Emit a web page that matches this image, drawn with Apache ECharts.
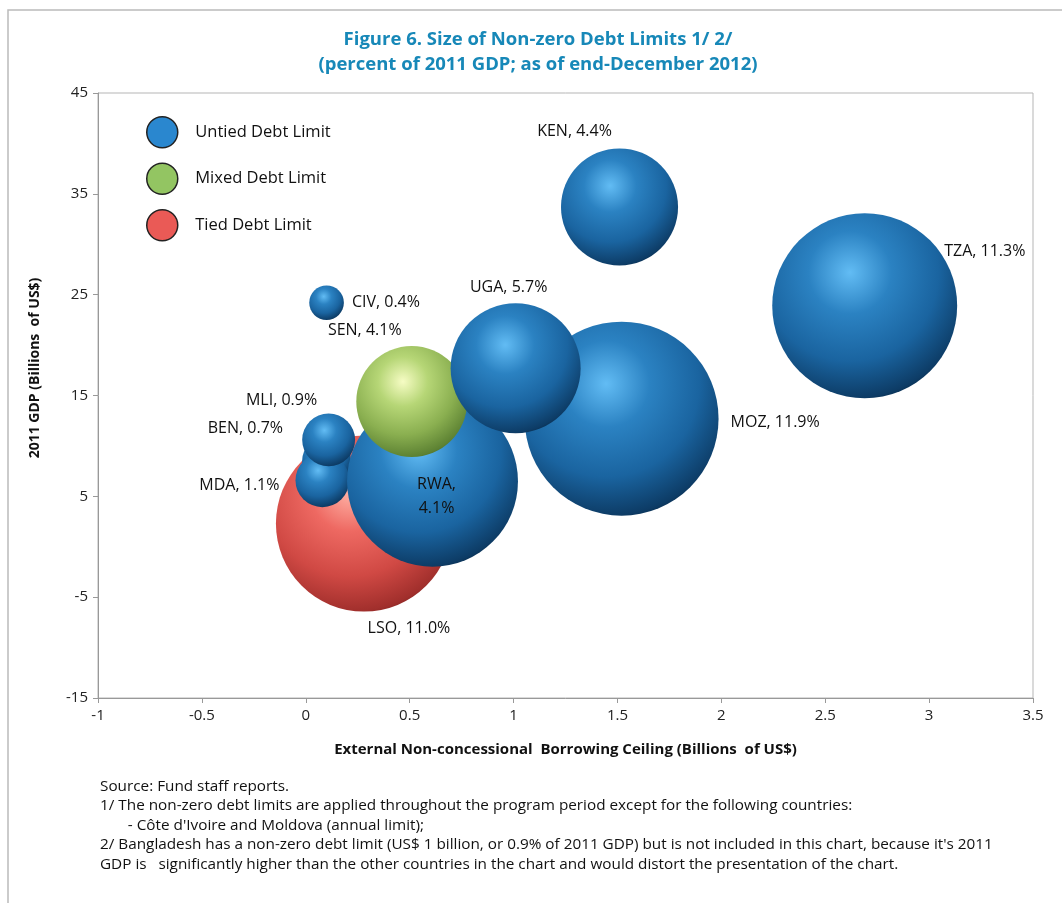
<!DOCTYPE html>
<html>
<head>
<meta charset="utf-8">
<script src="https://cdn.jsdelivr.net/npm/echarts@6/dist/echarts.min.js"></script>
<style>html,body{margin:0;padding:0;background:#fff}#c{width:1062px;height:903px}</style>
</head>
<body>
<div id="c"></div>
<script>
// ---- data ----
const countries   = ['LSO', 'BEN', 'MDA', 'MLI', 'CIV', 'RWA', 'MOZ', 'SEN', 'UGA', 'KEN', 'TZA'];
const limitType   = ['Tied', 'Untied', 'Untied', 'Untied', 'Untied', 'Untied', 'Untied', 'Mixed', 'Untied', 'Untied', 'Untied'];
const ceilingBn   = [0.28, 0.10, 0.08, 0.11, 0.10, 0.61, 1.52, 0.51, 1.01, 1.51, 2.69];   // x
const gdpBn       = [2.3, 8.5, 6.6, 10.6, 24.2, 6.5, 12.7, 14.4, 17.7, 33.7, 23.9];       // y
const bubbleSize  = [310, 24, 29, 28, 12, 292, 376, 123, 169, 137, 342];                   // relative bubble area
const pctGDP      = ['11.0%', '0.7%', '1.1%', '0.9%', '0.4%', '4.1%', '11.9%', '4.1%', '5.7%', '4.4%', '11.3%'];
const seriesNames = ['Untied Debt Limit', 'Mixed Debt Limit', 'Tied Debt Limit'];
const seriesKeys  = ['Untied', 'Mixed', 'Tied'];
const xTicks = {min: -1, max: 3.5, interval: 0.5};
const yTicks = {min: -15, max: 45, interval: 10};

// ---- styles ----
const FONT = "'Open Sans', 'Noto Sans', sans-serif";
const flat = {Untied: '#2a87cf', Mixed: '#93c562', Tied: '#ea5a56'};
function grad(k) {
  const s = {
    Untied: ['#62bcf4', '#2b82c2', '#1a64a0', '#0d3c66', '#010a14'],
    Mixed:  ['#f6fcc4', '#b6d676', '#8aaf50', '#5d8233', '#2c4216'],
    Tied:   ['#ffb2a6', '#ee6962', '#d04944', '#a12f2c', '#4e100f']
  }[k];
  return {type: 'radial', x: 0.42, y: 0.32, r: 0.8, colorStops: [
    {offset: 0, color: s[0]}, {offset: 0.28, color: s[1]},
    {offset: 0.6, color: s[2]}, {offset: 0.85, color: s[3]}, {offset: 1, color: s[4]}]};
}
// label placement (style only)
const labelPlace = {
  LSO: {position: 'bottom', offset: [45, 0]},
  MDA: {position: 'left', offset: [-11, 5]},
  BEN: {position: 'left', offset: [-14, -33]},
  MLI: {position: 'left', offset: [20, -39]},
  CIV: {position: 'right', offset: [3, 0]},
  RWA: {position: 'inside', offset: [4, 15], newline: true},
  SEN: {position: 'top', offset: [-47, 1]},
  UGA: {position: 'top', offset: [-7, 1]},
  MOZ: {position: 'right', offset: [7, 4]},
  KEN: {position: 'top', offset: [-45, 0]},
  TZA: {position: 'right', offset: [-18, -54]}
};
const frontLayer = ['UGA', 'KEN', 'TZA']; // drawn above the mixed bubble

function buildData(key, front) {
  const out = [];
  countries.forEach((c, i) => {
    if (limitType[i] !== key) return;
    if (key === 'Untied' && frontLayer.includes(c) !== front) return;
    const lp = labelPlace[c];
    out.push({
      name: c,
      value: [ceilingBn[i], gdpBn[i], bubbleSize[i]],
      label: {
        show: true, position: lp.position, offset: lp.offset,
        formatter: lp.newline ? c + ',\n' + pctGDP[i] : c + ', ' + pctGDP[i]
      }
    });
  });
  return out;
}
function mk(key, name, front, z) {
  return {
    name: name, type: 'scatter', data: buildData(key, front),
    symbolSize: v => Math.sqrt(v[2]) * 10,
    itemStyle: {color: grad(key), opacity: 1},
    label: {color: '#111', fontSize: 16, fontFamily: FONT, lineHeight: 24},
    emphasis: {disabled: true}, z: z
  };
}
const series = [
  mk('Tied', seriesNames[2], false, 2),
  mk('Untied', seriesNames[0], false, 3),
  mk('Mixed', seriesNames[1], false, 4),
  mk('Untied', seriesNames[0], true, 5)
];

const footLines = [
  'Source: Fund staff reports.',
  '1/ The non-zero debt limits are applied throughout the program period except for the following countries:',
  '       - Côte d\'Ivoire and Moldova (annual limit);',
  '2/ Bangladesh has a non-zero debt limit (US$ 1 billion, or 0.9% of 2011 GDP) but is not included in this chart, because it\'s 2011',
  'GDP is   significantly higher than the other countries in the chart and would distort the presentation of the chart.'
];

const chart = echarts.init(document.getElementById('c'), null, {renderer: 'canvas'});
chart.setOption({
  animation: false,
  backgroundColor: '#fff',
  title: {
    text: 'Figure 6. Size of Non-zero Debt Limits 1/ 2/\n(percent of 2011 GDP; as of end-December 2012)',
    left: 533, top: 22, textAlign: 'center',
    textStyle: {color: '#1788b8', fontSize: 18.5, fontWeight: 'bold', fontFamily: FONT, lineHeight: 25}
  },
  legend: {
    left: 141, top: 111, orient: 'vertical', itemGap: 14,
    itemWidth: 32, itemHeight: 31, icon: 'circle',
    data: seriesNames.map((n, i) => ({name: n, itemStyle: {color: flat[seriesKeys[i]], borderColor: '#222', borderWidth: 1.5}})),
    textStyle: {fontSize: 16.5, color: '#111', fontFamily: FONT, padding: [0, 0, 0, 12]}
  },
  grid: {left: 98, right: 29, top: 93, bottom: 205, show: true, borderColor: '#b5b5b5', borderWidth: 1},
  xAxis: {
    type: 'value', min: xTicks.min, max: xTicks.max, interval: xTicks.interval,
    name: 'External Non-concessional  Borrowing Ceiling (Billions  of US$)',
    nameLocation: 'middle', nameGap: 44,
    nameTextStyle: {fontSize: 15, fontWeight: 'bold', color: '#111', fontFamily: FONT},
    axisLine: {onZero: false, lineStyle: {color: '#999'}}, axisTick: {lineStyle: {color: '#999'}, length: 5},
    splitLine: {show: false},
    axisLabel: {fontSize: 15, color: '#222', margin: 10, fontFamily: FONT}
  },
  yAxis: {
    type: 'value', min: yTicks.min, max: yTicks.max, interval: yTicks.interval,
    axisLine: {show: true, onZero: false, lineStyle: {color: '#999'}}, axisTick: {show: true, lineStyle: {color: '#999'}, length: 5},
    splitLine: {show: false},
    axisLabel: {fontSize: 15, color: '#222', margin: 10, fontFamily: FONT}
  },
  graphic: [
    {type: 'rect', shape: {x: 8, y: 10, width: 1200, height: 1000}, style: {fill: 'none', stroke: '#bbb', lineWidth: 1.5}, silent: true, z: -1},
    {type: 'text', x: 35, y: 368, rotation: Math.PI / 2,
      style: {text: '2011 GDP (Billions  of US$)', fontSize: 14, fontWeight: 'bold', fill: '#111', fontFamily: FONT, align: 'center', verticalAlign: 'middle'}},
    ...footLines.map((t, i) => ({
      type: 'text', left: 100, top: 779 + i * 19.5,
      style: {text: t, fontSize: 15.3, fill: '#111', fontFamily: FONT}
    }))
  ],
  series: series
});
</script>
</body>
</html>
